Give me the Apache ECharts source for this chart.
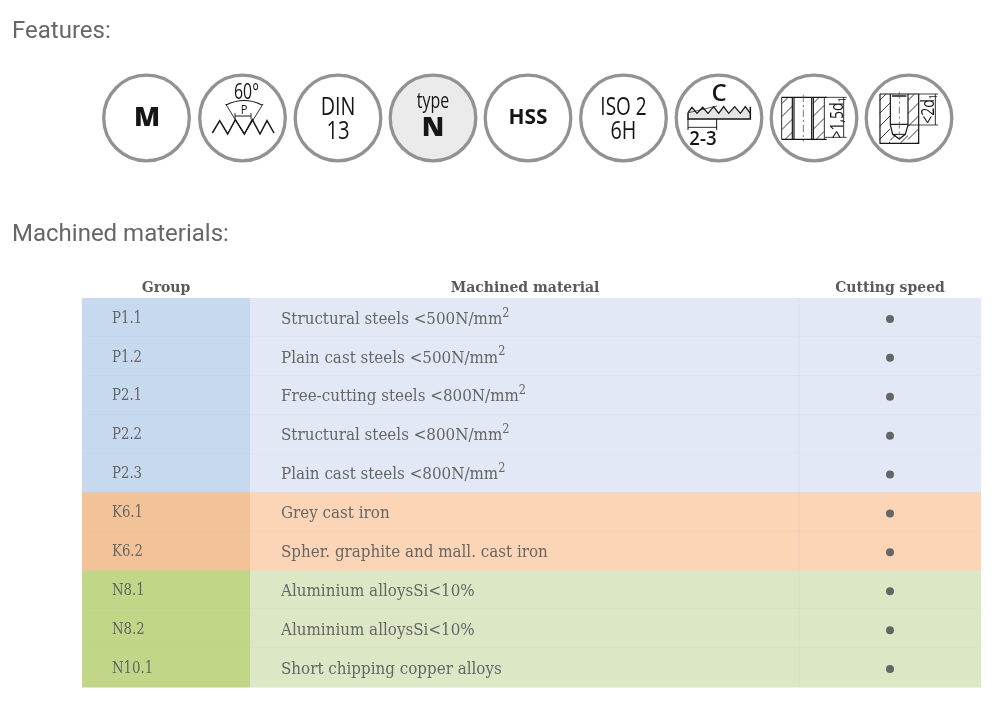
<!DOCTYPE html>
<html><head><meta charset="utf-8">
<style>html,body{margin:0;padding:0;background:#fff}#c{width:1002px;height:705px}</style>
<script src="https://cdn.jsdelivr.net/npm/echarts@6/dist/echarts.min.js"></script>
</head><body><div id="c"></div>
<script>
const headers = ['Group','Machined material','Cutting speed'];
const groups = ['P1.1','P1.2','P2.1','P2.2','P2.3','K6.1','K6.2','N8.1','N8.2','N10.1'];
const materials = [
 ['Structural steels <500N/mm','2'],['Plain cast steels <500N/mm','2'],['Free-cutting steels <800N/mm','2'],
 ['Structural steels <800N/mm','2'],['Plain cast steels <800N/mm','2'],['Grey cast iron',''],
 ['Spher. graphite and mall. cast iron',''],['Aluminium alloysSi<10%',''],['Aluminium alloysSi<10%',''],['Short chipping copper alloys','']];
const cuttingSpeed = [1,1,1,1,1,1,1,1,1,1];
const family = ['P','P','P','P','P','K','K','N','N','N'];
const groupColors = {P:'#c6d9ef',K:'#f2c399',N:'#c1d686'};
const materialColors = {P:'#e2e8f5',K:'#fcd5b6',N:'#dce7c6'};
const colEdges = [0,168,717,899];
const colCenters = [84,443,808];

const SERIF='"DejaVu Serif"', TXT='#666666', INK='#161616';

function renderRow(params, api){
  const r=api.value(0), f=family[r];
  const [x0,yc]=api.coord([colEdges[0],r]);
  const x1=api.coord([colEdges[1],r])[0], x2=api.coord([colEdges[2],r])[0], x3=api.coord([colEdges[3],r])[0];
  const h=api.size([0,1])[1], y=yc-h/2;
  const sepColor='rgba(170,180,190,0.3)';
  const m=materials[r];
  const children=[
    {type:'rect',shape:{x:x0,y:y,width:x1-x0,height:h+0.5},style:{fill:groupColors[f]}},
    {type:'rect',shape:{x:x1,y:y,width:x3-x1,height:h+0.5},style:{fill:materialColors[f]}},
    {type:'line',shape:{x1:x2,y1:y,x2:x2,y2:y+h},style:{stroke:sepColor,lineWidth:1,lineDash:[1,1]}},
    {type:'text',x:x0+30,y:yc+1,scaleX:0.83,style:{text:groups[r],font:'16px '+SERIF,fill:TXT,align:'left',verticalAlign:'middle'}},
    {type:'text',x:x1+31,y:yc,scaleX:0.945,style:{
      text:'{m|'+m[0]+'}'+(m[1]?'{s|'+m[1]+'}':''),align:'left',verticalAlign:'middle',
      rich:{m:{font:'16px '+SERIF,fill:TXT,lineHeight:20,verticalAlign:'bottom'},
            s:{font:'12px '+SERIF,fill:TXT,lineHeight:12,verticalAlign:'top'}}}}
  ];
  if(r<groups.length-1) children.push({type:'line',shape:{x1:x0,y1:y+h,x2:x3,y2:y+h},style:{stroke:sepColor,lineWidth:1,lineDash:[1,1]}});
  return {type:'group',children};
}

// ---- feature badges (decorative pictograms) ----
const g=[];
const badge=(cx,fill)=>g.push({type:'circle',shape:{cx,cy:118,r:42.8},style:{fill:fill||'#fff',stroke:'#929292',lineWidth:3.3},silent:true});
const txt=(s,x,y,size,opt={})=>g.push({type:'text',x,y,rotation:opt.rot||0,scaleX:opt.sx||1,silent:true,z:5,
  style:Object.assign({text:s,font:(opt.w||400)+' '+size+'px '+(opt.f||'"Open Sans"'),fill:INK,align:'center',verticalAlign:'middle'},opt.style||{})});
const poly=(ox,oy,pts,opt={})=>g.push({type:'polyline',silent:true,z:4,shape:{points:pts.map(p=>[ox+p[0]/3,oy+p[1]/3])},
  style:{stroke:opt.c||INK,lineWidth:opt.lw||1,fill:'none',lineDash:opt.d||null}});
function hatch(x0,y0,x1,y1,step){
  for(let k=x0+y0+step/2;k<x1+y1;k+=step){
    const ax=Math.max(x0,k-y1), bx=Math.min(x1,k-y0);
    if(bx>ax) g.push({type:'line',silent:true,z:3,shape:{x1:ax,y1:k-ax,x2:bx,y2:k-bx},style:{stroke:'#222',lineWidth:0.9}});
  }
}
const badgeX=[146.5,242.5,338,433,528,623.5,719,814,909];
badgeX.forEach((x,i)=>badge(x,i===3?'#ebebeb':'#fff'));

txt('M',147,118,27,{w:800});
// thread profile
let O=[205,78];
txt('60°',246.5,93,22,{sx:0.72,w:500});
txt('P',244,110,13,{sx:0.85,w:500});
poly(O[0],O[1],[[22,165],[44,128],[68,168],[91,125],[118,168],[142,125],[165,168],[186,128],[207,165]],{lw:1.5});
poly(O[0],O[1],[[62,78],[118,168],[174,78]],{lw:0.9});
g.push({type:'bezierCurve',silent:true,z:4,shape:{x1:226,y1:105,cpx1:244,cpy1:96,x2:262,y2:105},style:{fill:'none',stroke:INK,lineWidth:1.2}});
poly(O[0],O[1],[[90,105],[90,124]],{lw:0.9});poly(O[0],O[1],[[138,105],[138,124]],{lw:0.9});
poly(O[0],O[1],[[90,114],[138,114]],{lw:1});
// DIN
txt('DIN',338,108,26,{sx:0.76,w:500});txt('13',338,132,26,{sx:0.78,w:500});
// type N
txt('type',433,102,21,{sx:0.76,w:500});txt('N',433,128,27,{w:800});
// HSS
txt('HSS',528,118,22,{w:700,sx:0.95});
// ISO
txt('ISO 2',623.5,108,26,{sx:0.73,w:500});txt('6H',623.5,132,26,{sx:0.76,w:500});
// thread C
O=[682,80];
txt('C',719,94,24,{w:600});
g.push({type:'polygon',silent:true,z:2,shape:{points:[[18,98],[30,82],[45,100],[62,82],[78,100],[95,80],[110,100],[125,80],[140,100],[158,80],[175,100],[190,80],[205,100],[205,117],[18,117]].map(p=>[O[0]+p[0]/3,O[1]+p[1]/3])},style:{fill:'#e4e4e4'}});
poly(O[0],O[1],[[18,98],[30,82],[45,100],[62,82],[78,100],[95,80],[110,100],[125,80],[140,100],[158,80],[175,100],[190,80],[205,100]],{lw:1.3});
poly(O[0],O[1],[[18,98],[18,117],[205,117],[205,80]],{lw:1.5});
poly(O[0],O[1],[[20,98],[105,78]],{lw:0.7});
poly(O[0],O[1],[[18,117],[18,150]],{lw:1});poly(O[0],O[1],[[104,117],[104,150]],{lw:1});
poly(O[0],O[1],[[18,142],[104,142]],{lw:0.9});
txt('2-3',703,139,20,{w:600,sx:0.93});
// through hole
hatch(782,97,792.5,139,13);hatch(813,97,824,139,13);
O=[775,85];
poly(O[0],O[1],[[20,37],[155,37]],{lw:1.2});poly(O[0],O[1],[[20,163],[155,163]],{lw:1.2});
poly(O[0],O[1],[[20,37],[20,163]],{lw:0.9});poly(O[0],O[1],[[148,37],[148,163]],{lw:0.9});
poly(O[0],O[1],[[52,37],[52,163]],{lw:1.2});poly(O[0],O[1],[[57,37],[57,163]],{lw:1.2});
poly(O[0],O[1],[[110,37],[110,163]],{lw:1.2});poly(O[0],O[1],[[115,37],[115,163]],{lw:1.2});
poly(O[0],O[1],[[85,30],[85,170]],{lw:0.8,c:'#555',d:[7,3,2,3]});
poly(O[0],O[1],[[150,37],[215,37]],{lw:0.8});poly(O[0],O[1],[[150,157],[215,157]],{lw:0.8});
poly(O[0],O[1],[[206,37],[206,157]],{lw:0.9});
txt('>1,5d{s|1}',838,118,18,{sx:0.78,w:500,rot:Math.PI/2,style:{rich:{n:{},s:{font:'500 11px "Open Sans"',fill:INK,lineHeight:20,verticalAlign:'bottom'}}}});
// blind hole
O=[872,85];
hatch(879.5,94,890,143.3,13);hatch(908,94,918.5,143.3,13);hatch(890,134,908,143.3,13);
poly(O[0],O[1],[[24,27],[140,27],[140,175],[24,175],[24,27]],{lw:1.2});
poly(O[0],O[1],[[55,27],[55,120],[62,148],[82,162],[100,148],[108,120],[108,27]],{lw:1.2});
poly(O[0],O[1],[[55,118],[108,118]],{lw:1.2});poly(O[0],O[1],[[62,148],[100,148]],{lw:1});
poly(O[0],O[1],[[60,33],[103,33]],{lw:1.5});
poly(O[0],O[1],[[82,20],[82,165]],{lw:0.8,c:'#555',d:[7,3,2,3]});
poly(O[0],O[1],[[140,27],[198,27]],{lw:0.8});poly(O[0],O[1],[[108,120],[198,120]],{lw:0.8});
poly(O[0],O[1],[[190,27],[190,120]],{lw:0.9});
txt('<2d{s|1}',929,109,18,{sx:0.78,w:500,rot:Math.PI/2,style:{rich:{s:{font:'500 11px "Open Sans"',fill:INK,lineHeight:20,verticalAlign:'bottom'}}}});
// section titles
g.push({type:'text',x:12,y:32,silent:true,style:{text:'Features:',font:'24px Roboto',fill:'#666',verticalAlign:'middle'}});
g.push({type:'text',x:12,y:235,silent:true,style:{text:'Machined materials:',font:'24px Roboto',fill:'#666',verticalAlign:'middle'}});

const chart=echarts.init(document.getElementById('c'),null,{renderer:'canvas'});
chart.setOption({
  animation:false,backgroundColor:'#fff',
  grid:{left:82,right:21,top:298,bottom:18},
  xAxis:{type:'value',position:'top',min:colEdges[0],max:colEdges[3],splitLine:{show:false},axisLine:{show:false},axisTick:{show:false},
    axisLabel:{customValues:colCenters,margin:3,formatter:v=>headers[colCenters.indexOf(v)],
      fontFamily:'"DejaVu Serif"',fontWeight:'bold',fontSize:14,color:'#5a5a5a'}},
  yAxis:{type:'category',inverse:true,data:groups,show:false},
  series:[
    {type:'custom',name:'Table',coordinateSystem:'cartesian2d',renderItem:renderRow,silent:true,
      encode:{x:1,y:0},data:groups.map((_,i)=>[i,0]),clip:false},
    {type:'scatter',name:'Cutting speed',symbol:'circle',symbolSize:8,symbolOffset:[0,1.5],itemStyle:{color:'#666666',opacity:1},silent:true,z:5,
      data:cuttingSpeed.map((v,i)=>v?[colCenters[2],groups[i]]:null).filter(Boolean)}
  ],
  graphic:{elements:g}
});
</script></body></html>
